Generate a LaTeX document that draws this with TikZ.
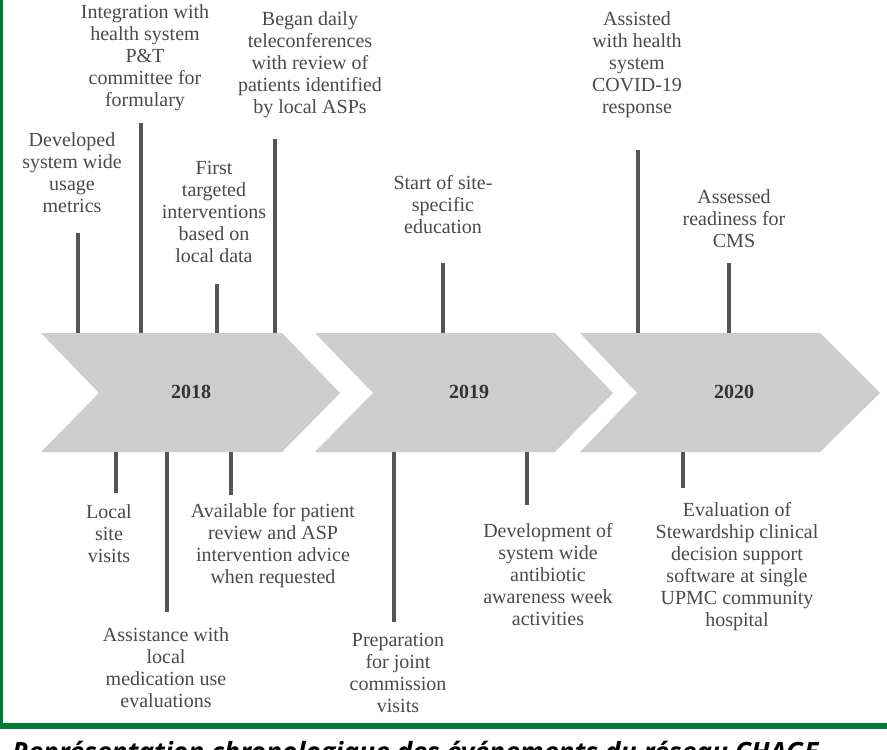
\documentclass[tikz,border=0pt]{standalone}
\usepackage{fontspec}
\setmainfont{Liberation Serif}
\newfontfamily\capfont{Open Sans}
\definecolor{txtgray}{HTML}{4A4A4A}
\definecolor{yrgray}{HTML}{333333}
\definecolor{linegray}{HTML}{555555}
\definecolor{chevgray}{HTML}{CDCDCD}
\definecolor{frgreen}{RGB}{0,125,55}
\begin{document}
\begin{tikzpicture}[x=1pt,y=-1pt,
  lab/.style={font=\fontsize{20}{22}\selectfont, text=txtgray, align=center, inner sep=0pt},
  yr/.style={font=\fontsize{20}{22}\selectfont\bfseries, text=yrgray, inner sep=0pt},
  tick/.style={draw=linegray, line width=3.5pt},
  chev/.style={fill=chevgray, draw=none}]
\useasboundingbox (0,0) rectangle (887,750);
\begin{scope}
\clip (0,0) rectangle (887,750);
\fill[white] (0,0) rectangle (887,750);
% frame
\fill[frgreen] (0,0) rectangle (3,729);
\fill[frgreen] (0,723) rectangle (887,729);
% chevrons
\fill[chev] (41,333) -- (282,333) -- (340,393) -- (282,452) -- (41,452) -- (99,393) -- cycle;
\fill[chev] (315,333) -- (555,333) -- (613,393) -- (555,452) -- (315,452) -- (373,393) -- cycle;
\fill[chev] (580,333) -- (820,333) -- (880,393) -- (820,452) -- (580,452) -- (637,393) -- cycle;
\node[yr] (y18) at (191,392) {2018};
\node[yr] (y19) at (469,392) {2019};
\node[yr] (y20) at (734,392) {2020};
% top labels
\node[lab] (t1) at (72,173) {Developed\\system wide\\usage\\metrics};
\node[lab] (t2) at (145,58) {Integration with\\health system\\P\&T\\committee for\\formulary};
\node[lab] (t3) at (214,212) {First\\targeted\\interventions\\based on\\local data};
\node[lab] (t4) at (310,65) {Began daily\\teleconferences\\with review of\\patients identified\\by local ASPs};
\node[lab] (t5) at (443,205) {Start of site-\\specific\\education};
\node[lab] (t6) at (637,65) {Assisted\\with health\\system\\COVID-19\\response};
\node[lab] (t7) at (734,219) {Assessed\\readiness for\\CMS};
% bottom labels
\node[lab] (b1) at (109,534) {Local\\site\\visits};
\node[lab] (b2) at (166,668) {Assistance with\\local\\medication use\\evaluations};
\node[lab] (b3) at (273,546) {Available for patient\\review and ASP\\intervention advice\\when requested};
\node[lab] (b4) at (398,673) {Preparation\\for joint\\commission\\visits};
\node[lab] (b5) at (548,575) {Development of\\system wide\\antibiotic\\awareness week\\activities};
\node[lab] (b6) at (737,567) {Evaluation of\\Stewardship clinical\\decision support\\software at single\\UPMC community\\hospital};
% tick coordinates
\coordinate (t1a) at (78,233);  \coordinate (t1b) at (78,333);
\coordinate (t2a) at (141,123); \coordinate (t2b) at (141,333);
\coordinate (t3a) at (217,284); \coordinate (t3b) at (217,333);
\coordinate (t4a) at (275,139); \coordinate (t4b) at (275,333);
\coordinate (t5a) at (443,263); \coordinate (t5b) at (443,333);
\coordinate (t6a) at (638,150); \coordinate (t6b) at (638,333);
\coordinate (t7a) at (729,263); \coordinate (t7b) at (729,333);
\coordinate (b1a) at (116,452); \coordinate (b1b) at (116,493);
\coordinate (b2a) at (167,452); \coordinate (b2b) at (167,612);
\coordinate (b3a) at (231,452); \coordinate (b3b) at (231,495);
\coordinate (b4a) at (394,452); \coordinate (b4b) at (394,622);
\coordinate (b5a) at (527,452); \coordinate (b5b) at (527,505);
\coordinate (b6a) at (683,452); \coordinate (b6b) at (683,488);
\foreach \n in {t1,t2,t3,t4,t5,t6,t7,b1,b2,b3,b4,b5,b6}{\draw[tick] (\n a) -- (\n b);}
% caption (cut off at the bottom, as in the original)
\node[anchor=base west, inner sep=0pt, text=black,
  font=\capfont\bfseries\itshape\fontsize{26.5}{30}\selectfont] (cap) at (12,761)
  {Représentation chronologique des événements du réseau CHAGE};
\end{scope}
\end{tikzpicture}
\end{document}
